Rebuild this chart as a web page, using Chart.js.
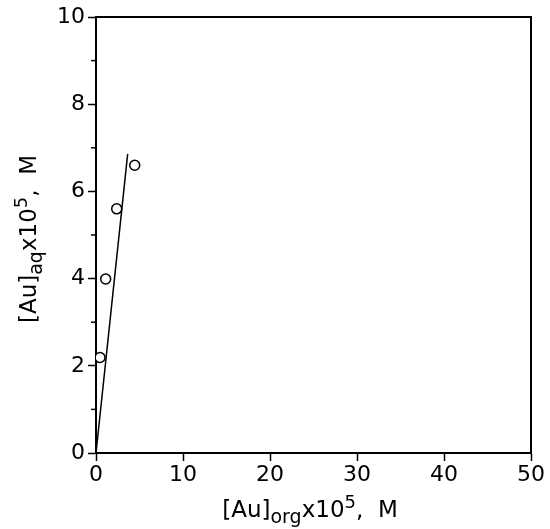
<!DOCTYPE html>
<html>
<head>
<meta charset="utf-8">
<script src="https://cdn.jsdelivr.net/npm/chart.js@4/dist/chart.umd.min.js"></script>
<style>
  html, body { margin: 0; padding: 0; background: #fff; }
  #wrap { width: 550px; height: 529px; }
</style>
</head>
<body>
<div id="wrap"><canvas id="myChart" width="550" height="529"></canvas></div>
<script>
// measured points
const orgConc = [0.46, 1.11, 2.38, 4.45];
const aqConc = [2.19, 3.99, 5.6, 6.6];
// fitted line ends
const fitX = [0, 3.64];
const fitY = [0, 6.86];
// axis ticks
const xTicks = [0, 10, 20, 30, 40, 50];
const yTicks = [0, 2, 4, 6, 8, 10];
const yMinor = [1, 3, 5, 7, 9];

const FONT = "'DejaVu Sans', 'Liberation Sans', sans-serif";

// draws a label with sub/superscript pieces
function richText(ctx, parts, x, y) {
  let total = 0;
  parts.forEach(p => {
    ctx.font = p.size + 'px ' + FONT;
    p.w = ctx.measureText(p.t).width;
    total += p.w;
  });
  let cx = x - total / 2;
  ctx.textBaseline = 'alphabetic';
  ctx.textAlign = 'left';
  parts.forEach(p => {
    ctx.font = p.size + 'px ' + FONT;
    ctx.fillText(p.t, cx, y + p.dy);
    cx += p.w;
  });
}

const framePlugin = {
  id: 'frame',
  afterDraw(chart) {
    const ctx = chart.ctx;
    const a = chart.chartArea;
    const ys = chart.scales.y;
    ctx.save();
    ctx.strokeStyle = '#000';
    ctx.lineWidth = 2;
    ctx.beginPath();
    ctx.moveTo(a.left, a.top);
    ctx.lineTo(a.right, a.top);
    ctx.lineTo(a.right, a.bottom);
    ctx.stroke();
    // minor y ticks
    ctx.lineWidth = 1.5;
    yMinor.forEach(v => {
      const py = ys.getPixelForValue(v);
      ctx.beginPath();
      ctx.moveTo(a.left - 5, py);
      ctx.lineTo(a.left, py);
      ctx.stroke();
    });
    ctx.fillStyle = '#000';
    // x title
    richText(ctx, [
      {t: '[Au]', size: 23, dy: 0},
      {t: 'org', size: 19, dy: 6},
      {t: 'x10', size: 23, dy: 0},
      {t: '5', size: 18, dy: -9},
      {t: ',  M', size: 23, dy: 0}
    ], 310, 517);
    // y title
    ctx.translate(36, 239);
    ctx.rotate(-Math.PI / 2);
    richText(ctx, [
      {t: '[Au]', size: 23, dy: 0},
      {t: 'aq', size: 19, dy: 6},
      {t: 'x10', size: 23, dy: 0},
      {t: '5', size: 18, dy: -9},
      {t: ',  M', size: 23, dy: 0}
    ], 0, 0);
    ctx.restore();
  }
};

const tickFont = {family: FONT, size: 22};

new Chart(document.getElementById('myChart').getContext('2d'), {
  type: 'scatter',
  data: {
    datasets: [
      {
        label: 'data',
        data: orgConc.map((x, i) => ({x: x, y: aqConc[i]})),
        pointStyle: 'circle',
        pointRadius: 5,
        pointBorderWidth: 1.5,
        pointBorderColor: '#000',
        pointBackgroundColor: '#fff',
        showLine: false
      },
      {
        label: 'fit',
        data: fitX.map((x, i) => ({x: x, y: fitY[i]})),
        showLine: true,
        borderColor: '#000',
        borderWidth: 1.5,
        pointRadius: 0,
        order: 1
      }
    ]
  },
  options: {
    responsive: false,
    animation: false,
    layout: {padding: {top: 17, right: 19, left: 0, bottom: 0}},
    plugins: {legend: {display: false}, tooltip: {enabled: false}},
    scales: {
      x: {
        type: 'linear', min: 0, max: 50,
        afterBuildTicks: s => { s.ticks = xTicks.map(v => ({value: v})); },
        afterFit: s => { s.height = 76; },
        ticks: {color: '#000', font: tickFont, padding: 1, maxRotation: 0},
        grid: {drawOnChartArea: false, drawTicks: true, tickLength: 8, tickColor: '#000', tickWidth: 1.5},
        border: {color: '#000', width: 2}
      },
      y: {
        type: 'linear', min: 0, max: 10,
        afterBuildTicks: s => { s.ticks = yTicks.map(v => ({value: v})); },
        afterFit: s => { s.width = 96; },
        ticks: {color: '#000', font: tickFont, padding: 3},
        grid: {drawOnChartArea: false, drawTicks: true, tickLength: 8, tickColor: '#000', tickWidth: 1.5},
        border: {color: '#000', width: 2}
      }
    }
  },
  plugins: [framePlugin]
});
</script>
</body>
</html>
